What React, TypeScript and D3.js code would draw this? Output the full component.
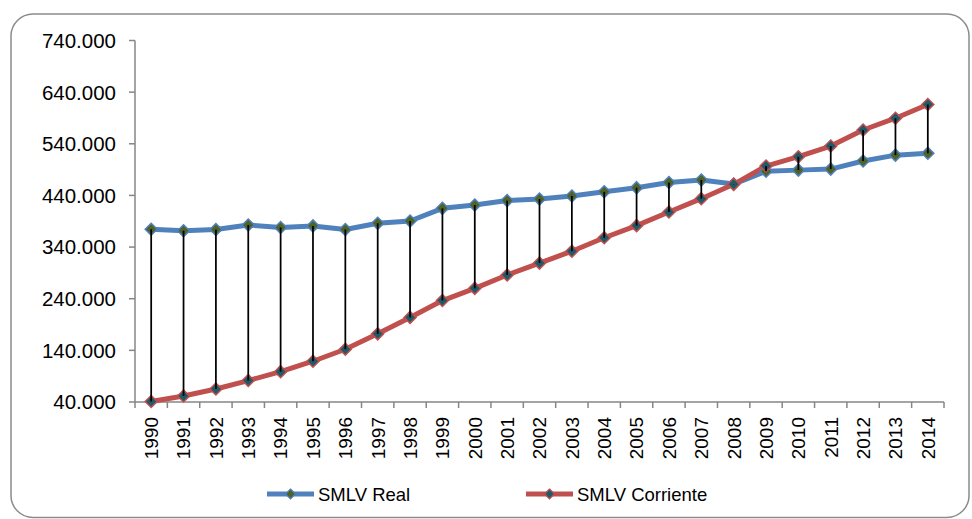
import React from "react";
import * as d3 from "d3";

const years = ["1990","1991","1992","1993","1994","1995","1996","1997","1998","1999","2000","2001","2002","2003","2004","2005","2006","2007","2008","2009","2010","2011","2012","2013","2014"];
const smlvReal = [374400, 371700, 374000, 382800, 378000, 381000, 374000, 386000, 390500, 415000, 421500, 430000, 433000, 439000, 447000, 455000, 465000, 470000, 462000, 487000, 489000, 491000, 506700, 518000, 521600];
const smlvCorriente = [41025, 51720, 65190, 81510, 98700, 118934, 142125, 172005, 203826, 236460, 260100, 286000, 309000, 332000, 358000, 381500, 408000, 433700, 461500, 496900, 515000, 535600, 566700, 589500, 616000];
const yTicks = [40000, 140000, 240000, 340000, 440000, 540000, 640000, 740000];
const seriesNames = ["SMLV Real", "SMLV Corriente"];

const W = 972, H = 519;
const left = 135, right = 944, top = 40.5, bottom = 402;
const FONT = "'Liberation Sans', Arial, sans-serif";
const blue = "#4F81BD", red = "#C0504D";
const blueFill = "#4F6228", redFill = "#215968";

export default function App() {
  const x = d3.scaleBand<string>().domain(years).range([left, right]).padding(0);
  const y = d3.scaleLinear().domain([40000, 740000]).range([bottom, top]);
  const cx = (i: number) => (x(years[i]) as number) + x.bandwidth() / 2;
  const fmt = (v: number) => d3.format(",")(v).replace(/,/g, ".");
  const line = d3.line<number>().x((_, i) => cx(i)).y((d) => y(d));
  const diamond = (px: number, py: number, r: number) =>
    `M${px},${py - r}L${px + r},${py}L${px},${py + r}L${px - r},${py}Z`;

  const series = [
    { name: seriesNames[0], data: smlvReal, color: blue, fill: blueFill },
    { name: seriesNames[1], data: smlvCorriente, color: red, fill: redFill },
  ];
  const legendX = [267, 526];

  return (
    <svg width={W} height={H} style={{ position: "absolute", left: 0, top: 0, background: "#fff" }} fontFamily={FONT}>
      <rect x={11} y={14} width={958} height={503.5} rx={22} ry={22} fill="#fff" stroke="#8C8C8C" strokeWidth={1.5} />
      {/* y axis */}
      <line x1={left} x2={left} y1={top} y2={bottom} stroke="#868686" strokeWidth={1.5} />
      {yTicks.map((t) => (
        <g key={t}>
          <line x1={left - 6} x2={left} y1={y(t)} y2={y(t)} stroke="#868686" strokeWidth={1.5} />
          <text x={116} y={y(t)} dy="0.36em" textAnchor="end" fontSize={20.5} fill="#000">{fmt(t)}</text>
        </g>
      ))}
      {/* x axis */}
      <line x1={left} x2={right} y1={bottom} y2={bottom} stroke="#868686" strokeWidth={1.5} />
      {years.map((yr) => (
        <line key={"t" + yr} x1={(x(yr) as number)} x2={(x(yr) as number)} y1={bottom} y2={bottom + 6} stroke="#868686" strokeWidth={1.5} />
      ))}
      <line x1={right} x2={right} y1={bottom} y2={bottom + 6} stroke="#868686" strokeWidth={1.5} />
      {years.map((yr, i) => (
        <text key={"l" + yr} transform={`translate(${cx(i)},${417}) rotate(-90)`} dy="0.36em" textAnchor="end" fontSize={19} fill="#000">{yr}</text>
      ))}
      {/* series lines */}
      {series.map((s) => (
        <path key={s.name} d={line(s.data) as string} fill="none" stroke={s.color} strokeWidth={5} strokeLinejoin="round" />
      ))}
      {/* markers */}
      {series.map((s) => (
        <g key={"m" + s.name}>
          {s.data.map((v, i) => (
            <path key={i} d={diamond(cx(i), y(v), 6)} fill={s.fill} stroke={s.color} strokeWidth={1.5} />
          ))}
        </g>
      ))}
      {/* high-low lines */}
      {years.map((yr, i) => (
        <line key={"hl" + yr} x1={cx(i)} x2={cx(i)} y1={y(smlvReal[i])} y2={y(smlvCorriente[i])} stroke="#000" strokeWidth={1.75} />
      ))}
      {/* legend */}
      {series.map((s, k) => (
        <g key={"lg" + s.name}>
          <line x1={legendX[k]} x2={legendX[k] + 47} y1={494} y2={494} stroke={s.color} strokeWidth={5} />
          <path d={diamond(legendX[k] + 23.5, 494, 5)} fill={s.fill} stroke={s.color} strokeWidth={1.2} />
          <text x={legendX[k] + 51} y={494} dy="0.36em" fontSize={18.5} fill="#000">{s.name}</text>
        </g>
      ))}
    </svg>
  );
}
